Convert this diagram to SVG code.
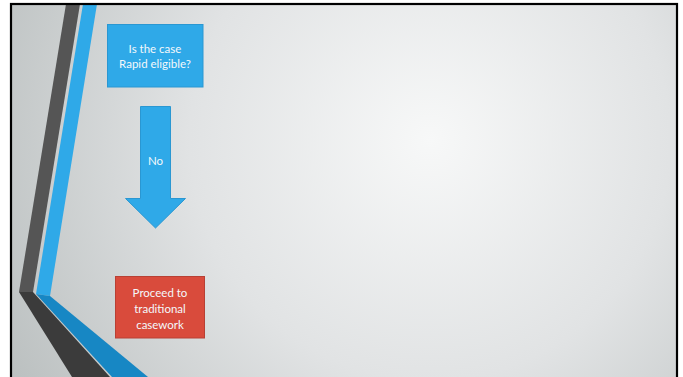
<svg xmlns="http://www.w3.org/2000/svg" width="683" height="377" viewBox="0 0 683 377">
<defs>
<radialGradient id="bg" cx="430" cy="140" r="480" gradientUnits="userSpaceOnUse">
<stop offset="0" stop-color="#f7f8f8"/>
<stop offset="0.5" stop-color="#e1e3e4"/>
<stop offset="1" stop-color="#bbc0c0"/>
</radialGradient>
<style>
.lbl{font-family:"Lato","Open Sans","Liberation Sans",sans-serif;font-size:11.5px;fill:#f4f8fb;text-anchor:middle}
.blue{fill:#2fa9e8;stroke:#2a97d2;stroke-width:1}
</style>
</defs>
<rect width="683" height="377" fill="#ffffff"/>
<rect x="11" y="4" width="666" height="373" fill="url(#bg)"/>
<g id="stripes">
<polygon points="66,4 80,4 33,292 19,292" fill="#555555"/>
<polygon points="19,292 33,292 110,377 72,377" fill="#3b3b3b"/>
<polygon points="83,4 97,4 50,296 36,294" fill="#2fa9e8"/>
<polygon points="36,294 50,296 148,377 112,377" fill="#1787c4"/>
</g>
<rect x="11" y="4" width="666" height="375" fill="none" stroke="#000000" stroke-width="2.2"/>
<g id="q">
<rect class="blue" x="107.5" y="24.5" width="95.5" height="62.5"/>
<text class="lbl" x="155" y="53">Is the case</text>
<text class="lbl" x="155" y="67.5">Rapid eligible?</text>
</g>
<g id="connectors">
<polygon class="blue" points="140.5,106.5 170.5,106.5 170.5,198.5 185.5,198.5 155.5,228 125.5,198.5 140.5,198.5"/>
<text class="lbl" x="155.5" y="165">No</text>
</g>
<g id="proceed">
<rect x="115.5" y="276.5" width="89" height="61.5" fill="#d94b3c" stroke="#b84034" stroke-width="1"/>
<text class="lbl" x="160" y="297">Proceed to</text>
<text class="lbl" x="160" y="313">traditional</text>
<text class="lbl" x="160" y="328.5">casework</text>
</g>
</svg>
